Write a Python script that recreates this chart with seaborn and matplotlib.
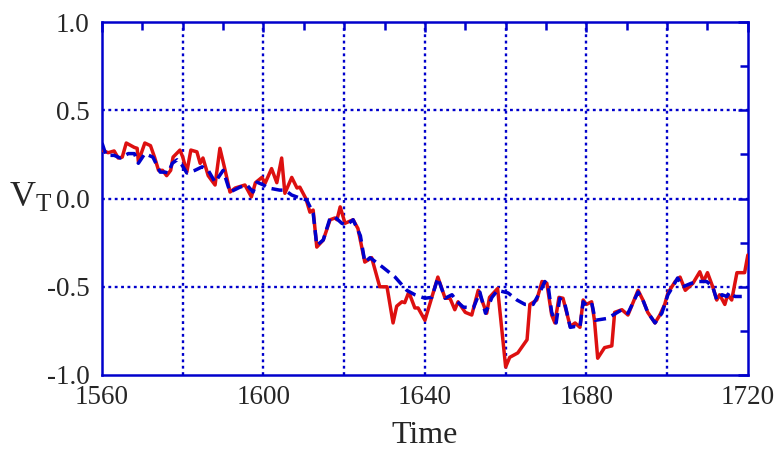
import numpy as np
import pandas as pd
import seaborn as sns
import matplotlib.pyplot as plt
from matplotlib.ticker import MultipleLocator

# red (solid) series - vertices
red_t = [1560, 1561.5, 1563, 1564, 1565, 1566, 1568, 1568.7, 1569, 1570.6,
         1572, 1573, 1574, 1575, 1576, 1577, 1577.6, 1579.3, 1580, 1581,
         1582, 1583.5, 1584.3, 1585, 1586.3, 1588, 1589.2, 1590.5, 1591.7, 1593,
         1595.4, 1597, 1598, 1599.6, 1600.4, 1602, 1603.3, 1604.5, 1605.3, 1607,
         1608.3, 1609, 1610.5, 1611.5, 1612.3, 1613.2, 1614.8, 1616.5, 1617.7, 1618.2,
         1619, 1620.2, 1622.2, 1623.4, 1625.1, 1626.8, 1628.8, 1630.6, 1632.1, 1633,
         1634.3, 1635, 1636, 1637.5, 1638.3, 1640, 1641.7, 1643.2, 1645, 1646.2,
         1647.4, 1648.2, 1650, 1651.6, 1653.2, 1655.3, 1656, 1658, 1660, 1661,
         1663, 1665.3, 1666, 1667.7, 1669, 1670.2, 1671.4, 1672.2, 1673.2, 1674.2,
         1676, 1677.2, 1678.4, 1679.2, 1680, 1681.3, 1682, 1682.8, 1684.5, 1686.3,
         1687, 1688.8, 1690.3, 1692.8, 1694, 1695.2, 1697, 1698.2, 1699.4, 1700.2,
         1702, 1703.2, 1704.5, 1706.4, 1708.1, 1709, 1710, 1711.3, 1712.3, 1713,
         1714.3, 1715, 1716, 1717.3, 1719.2, 1720]
red_v = [0.275, 0.26, 0.27, 0.23, 0.235, 0.315, 0.29, 0.285, 0.21, 0.315,
         0.30, 0.235, 0.16, 0.16, 0.13, 0.16, 0.235, 0.275, 0.235, 0.15,
         0.275, 0.265, 0.20, 0.23, 0.13, 0.077, 0.285, 0.16, 0.037, 0.06,
         0.077, 0.01, 0.09, 0.12, 0.087, 0.17, 0.09, 0.23, 0.03, 0.12,
         0.06, 0.065, 0.0, -0.077, -0.065, -0.275, -0.235, -0.12, -0.11, -0.12,
         -0.047, -0.14, -0.12, -0.17, -0.36, -0.335, -0.50, -0.50, -0.705, -0.61,
         -0.585, -0.59, -0.53, -0.62, -0.62, -0.69, -0.56, -0.445, -0.565, -0.565,
         -0.63, -0.585, -0.645, -0.66, -0.52, -0.65, -0.56, -0.51, -0.955, -0.90,
         -0.875, -0.80, -0.60, -0.575, -0.47, -0.48, -0.66, -0.705, -0.56, -0.565,
         -0.725, -0.705, -0.73, -0.575, -0.60, -0.585, -0.69, -0.905, -0.845, -0.835,
         -0.645, -0.63, -0.66, -0.52, -0.575, -0.645, -0.705, -0.66, -0.60, -0.535,
         -0.47, -0.445, -0.52, -0.48, -0.415, -0.47, -0.42, -0.50, -0.575, -0.545,
         -0.60, -0.545, -0.575, -0.42, -0.42, -0.32]

# blue (dashed) series
blue_t = [1560, 1561, 1563, 1564.5, 1566.5, 1568, 1569, 1570.6, 1572.6, 1574.4,
          1575.6, 1576.4, 1577.4, 1578.6, 1579.8, 1581, 1583, 1584.8, 1586.3, 1588,
          1590, 1591.7, 1594.2, 1595.9, 1597.4, 1598.4, 1600, 1601.2, 1604, 1605.3,
          1607, 1609, 1610.7, 1612.3, 1613.2, 1614.8, 1616.5, 1617.7, 1619.4, 1620.6,
          1622.2, 1624, 1625.1, 1626.4, 1629.6, 1632.6, 1635.5, 1637.5, 1640, 1641.7,
          1643.2, 1645, 1646.7, 1648, 1649.5, 1652, 1653.6, 1655, 1656.6, 1658,
          1660.6, 1662.8, 1664.8, 1666.8, 1668.5, 1669.7, 1670.5, 1671.4, 1672.5, 1673.4,
          1674.6, 1676, 1677.2, 1678.4, 1679.2, 1680.4, 1681.4, 1682.2, 1685, 1686.6,
          1688.8, 1690.3, 1692.8, 1694, 1695.2, 1697, 1698.7, 1700.2, 1701.4, 1702.6,
          1703.9, 1706, 1707.6, 1709.8, 1711.3, 1712.3, 1713.6, 1714.8, 1715.5, 1716.8,
          1718.5]
blue_v = [0.315, 0.245, 0.245, 0.23, 0.255, 0.255, 0.20, 0.255, 0.235, 0.15,
          0.15, 0.145, 0.20, 0.22, 0.19, 0.145, 0.16, 0.18, 0.16, 0.093,
          0.16, 0.037, 0.065, 0.077, 0.037, 0.093, 0.077, 0.06, 0.048, 0.048,
          0.02, 0.003, -0.008, -0.082, -0.265, -0.235, -0.11, -0.105, -0.14, -0.15,
          -0.12, -0.21, -0.36, -0.335, -0.39, -0.445, -0.52, -0.545, -0.565, -0.56,
          -0.45, -0.565, -0.545, -0.585, -0.615, -0.62, -0.53, -0.65, -0.56, -0.52,
          -0.535, -0.575, -0.60, -0.60, -0.53, -0.47, -0.49, -0.645, -0.705, -0.565,
          -0.59, -0.73, -0.725, -0.73, -0.585, -0.615, -0.60, -0.69, -0.68, -0.66,
          -0.63, -0.65, -0.53, -0.575, -0.645, -0.705, -0.65, -0.545, -0.50, -0.45,
          -0.50, -0.48, -0.47, -0.47, -0.50, -0.575, -0.545, -0.555, -0.53, -0.555,
          -0.555]

xticks = [1560, 1600, 1640, 1680, 1720]
yticks = [-1.0, -0.5, 0.0, 0.5, 1.0]

RED = "#dd1010"
BLUE = "#0000cc"
DOTS = (0, (1.2, 1.5))

sns.set_style("white")
plt.rcParams["font.family"] = ["Liberation Serif", "DejaVu Serif"]
plt.rcParams["mathtext.fontset"] = "custom"
plt.rcParams["mathtext.rm"] = "Liberation Serif"
plt.rcParams["mathtext.it"] = "Liberation Serif:italic"

fig = plt.figure(figsize=(7.79, 4.5), dpi=100)
ax = fig.add_axes([0.131, 0.1667, 0.829, 0.784])

red_df = pd.DataFrame({"t": red_t, "v": red_v})
blue_df = pd.DataFrame({"t": blue_t, "v": blue_v})

sns.lineplot(data=red_df, x="t", y="v", sort=False, estimator=None,
             color=RED, linewidth=2.5, ax=ax, zorder=3)
sns.lineplot(data=blue_df, x="t", y="v", sort=False, estimator=None,
             color=BLUE, linewidth=2.5, ax=ax, zorder=4,
             linestyle=(0, (3.2, 1.8)))

ax.set_xlim(1560, 1720)
ax.set_ylim(-1, 1)
ax.set_xticks(xticks)
ax.set_xticks(np.arange(1560, 1721, 10), minor=True)
ax.set_yticks(yticks)
ax.set_yticklabels([f"{v:.1f}" for v in yticks])
ax.yaxis.set_minor_locator(MultipleLocator(0.25))

# dotted grid every 20 years and every 0.5
for pos in range(1580, 1720, 20):
    ax.axvline(pos, color=BLUE, linestyle=DOTS, linewidth=1.7, zorder=0)
for pos in [-0.5, 0.0, 0.5]:
    ax.axhline(pos, color=BLUE, linestyle=DOTS, linewidth=1.7, zorder=0)

for s in ax.spines.values():
    s.set_color(BLUE)
    s.set_linewidth(1.8)
ax.tick_params(which="both", direction="in", color=BLUE, width=1.8,
               top=True, right=True, labelsize=19.5)
ax.tick_params(which="major", length=7)
ax.tick_params(which="minor", length=6)
ax.tick_params(axis="y", pad=9)
ax.tick_params(axis="x", pad=7)

ax.set_xlabel("Time", fontsize=23, labelpad=8)
ax.set_ylabel(r"V$_{\mathrm{T}}$", fontsize=26, rotation=0, va="center")
ax.yaxis.set_label_coords(-0.11, 0.5)

fig.savefig("out.png", dpi=100)
